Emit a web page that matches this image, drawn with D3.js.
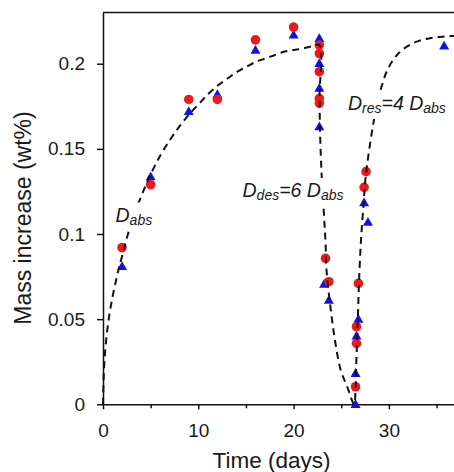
<!DOCTYPE html>
<html>
<head>
<meta charset="utf-8">
<script src="https://cdn.jsdelivr.net/npm/d3@7"></script>
<style>
  html, body { margin: 0; padding: 0; background: #fff; }
  svg { display: block; font-family: "Liberation Sans", Arial, Helvetica, sans-serif; }
</style>
</head>
<body>
<svg id="chart" width="454" height="472"></svg>
<script>
// Mass uptake measurements (time in days, mass increase in wt%)
const redTime  = [2.0, 5.0, 9.0, 12.0, 16.0, 20.0, 22.7, 22.7, 22.7, 22.7, 22.7, 23.35, 23.7, 26.8, 26.6, 26.6, 26.5, 27.4, 27.6];
const redMass  = [0.092, 0.129, 0.179, 0.179, 0.214, 0.2215, 0.211, 0.206, 0.1953, 0.1796, 0.1769, 0.0857, 0.072, 0.071, 0.0456, 0.0358, 0.0103, 0.1274, 0.1366];

const blueTime = [2.0, 5.0, 9.0, 12.0, 16.0, 20.0, 22.7, 22.7, 22.7, 22.7, 23.2, 23.7, 26.8, 26.6, 26.5, 26.5, 27.4, 27.8, 35.8];
const blueMass = [0.081, 0.1337, 0.172, 0.182, 0.208, 0.2169, 0.2149, 0.2002, 0.1856, 0.163, 0.0705, 0.0612, 0.050, 0.0401, 0.0182, 0.0, 0.1184, 0.107, 0.2104];

// Diffusion model curve: absorption, desorption, re-absorption
const fitTime = [0, 0.1, 0.3, 0.6, 1.0, 1.5, 2, 3, 4, 5, 6, 7, 8, 9, 10, 11, 12, 13, 14, 15, 16, 17, 18, 19, 20, 21, 22, 22.7,
                 22.72, 22.8, 22.95, 23.2, 23.35, 23.45, 23.85, 24.3, 24.95, 25.65, 26.35,
                 26.5, 26.55, 26.65, 26.75, 26.9, 27.1, 27.35, 27.5, 27.7, 28.0, 28.4, 28.8, 29.2, 29.9, 31.0, 32.5, 34.3, 36.0, 37.5];
const fitMass = [0, 0.02, 0.036, 0.05, 0.063, 0.076, 0.087, 0.107, 0.122, 0.135, 0.146, 0.155, 0.163, 0.170, 0.176, 0.182, 0.187, 0.191, 0.195, 0.198, 0.201, 0.203, 0.205, 0.207, 0.208, 0.209, 0.2103, 0.211,
                 0.18, 0.155, 0.134, 0.110, 0.095, 0.079, 0.058, 0.039, 0.020, 0.010, 0.0,
                 0.009, 0.02, 0.035, 0.052, 0.077, 0.099, 0.118, 0.130, 0.140, 0.152, 0.166, 0.177, 0.186, 0.197, 0.206, 0.212, 0.215, 0.216, 0.2165];

const xTicks = [0, 10, 20, 30];
const xTickLabels = ["0", "10", "20", "30"];
const xMinorTicks = [5, 15, 25, 35];
const yTicks = [0, 0.05, 0.1, 0.15, 0.2];
const yTickLabels = ["0", "0.05", "0.1", "0.15", "0.2"];

const svg = d3.select("#chart");
const left = 103, bottom = 404.3;

const x = d3.scaleLinear().domain([0, 37.5]).range([left, left + 37.5 * 9.53]);
const y = d3.scaleLinear().domain([0, 0.23]).range([bottom, bottom - 0.23 * 1703]);

const tickFont = "19px";

// x axis (major + minor ticks)
svg.append("g").attr("transform", `translate(0,${bottom})`)
  .call(d3.axisBottom(x).tickValues(xTicks).tickFormat((d, i) => xTickLabels[i]).tickSize(5).tickPadding(14).tickSizeOuter(0));
svg.append("g").attr("transform", `translate(0,${bottom})`)
  .call(d3.axisBottom(x).tickValues(xMinorTicks).tickFormat("").tickSize(4).tickSizeOuter(0))
  .call(g => g.select(".domain").remove());

// y axis
svg.append("g").attr("transform", `translate(${left},0)`)
  .call(d3.axisLeft(y).tickValues(yTicks).tickFormat((d, i) => yTickLabels[i]).tickSize(6).tickPadding(12).tickSizeOuter(0));

svg.selectAll(".tick text").attr("font-size", tickFont).attr("fill", "#1a1a1a")
  .attr("font-family", "Liberation Sans, Arial, sans-serif");
svg.selectAll(".domain, .tick line").attr("stroke", "#111").attr("stroke-width", 1.5);

// top frame line
svg.append("line")
  .attr("x1", left).attr("x2", x.range()[1])
  .attr("y1", y(0.23)).attr("y2", y(0.23))
  .attr("stroke", "#111").attr("stroke-width", 1.5);

// axis titles
svg.append("text")
  .attr("x", 271.5).attr("y", 468)
  .attr("text-anchor", "middle").attr("font-size", "22.5px").attr("fill", "#1a1a1a")
  .text("Time (days)");
svg.append("text")
  .attr("transform", `translate(31,218) rotate(-90)`)
  .attr("text-anchor", "middle").attr("font-size", "23px").attr("fill", "#1a1a1a")
  .text("Mass increase (wt%)");

// blue triangles
const tri = "M0,-5.2 L5,3.6 L-5,3.6 Z";
svg.append("g").selectAll("path")
  .data(blueTime.map((t, i) => [t, blueMass[i]]))
  .join("path")
  .attr("d", tri)
  .attr("transform", d => `translate(${x(d[0])},${y(d[1])})`)
  .attr("fill", "#1010e8");

// red circles
svg.append("g").selectAll("circle")
  .data(redTime.map((t, i) => [t, redMass[i]]))
  .join("circle")
  .attr("cx", d => x(d[0])).attr("cy", d => y(d[1]))
  .attr("r", 4.8)
  .attr("fill", "#f01818");

// dashed model curve
const line = d3.line()
  .x(d => x(d[0])).y(d => y(d[1]))
  .curve(d3.curveCatmullRom.alpha(0.5));
svg.append("path")
  .datum(fitTime.map((t, i) => [t, fitMass[i]]))
  .attr("d", line)
  .attr("fill", "none")
  .attr("stroke", "#111")
  .attr("stroke-width", 2)
  .attr("stroke-dasharray", "7,5");

// annotations on white boxes that mask the curve beneath them
function dLabel(px, py, sub1, rest, sub2) {
  const g = svg.append("g");
  const box = g.append("rect").attr("fill", "#fff");
  const t = g.append("text")
    .attr("x", px).attr("y", py)
    .attr("font-size", "19.5px").attr("font-style", "italic").attr("fill", "#1a1a1a");
  t.append("tspan").text("D");
  t.append("tspan").attr("font-size", "14px").attr("dy", 3).text(sub1);
  if (rest) {
    t.append("tspan").attr("dy", -3).text(rest);
    t.append("tspan").text("D");
    t.append("tspan").attr("font-size", "14px").attr("dy", 3).text(sub2);
  }
  const b = t.node().getBBox();
  box.attr("x", b.x - 2).attr("y", b.y - 1)
     .attr("width", b.width + 4).attr("height", b.height + 4);
}
dLabel(115.5, 221.5, "abs");
dLabel(242.5, 197, "des", "=6 ", "abs");
dLabel(348, 110, "res", "=4 ", "abs");
</script>
</body>
</html>
